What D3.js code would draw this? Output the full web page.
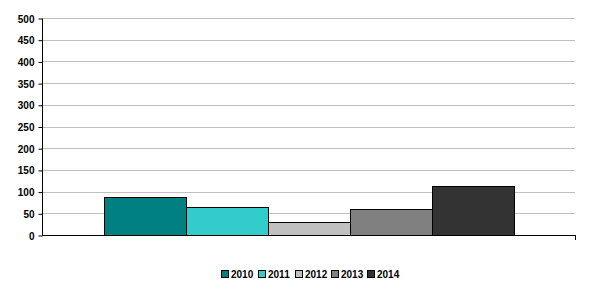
<!DOCTYPE html>
<html>
<head>
<meta charset="utf-8">
<script src="https://cdn.jsdelivr.net/npm/d3@7"></script>
<style>
  body { margin: 0; background: #fff; }
  text { font-family: "Liberation Sans Narrow", "Liberation Sans", Arial, sans-serif; font-weight: bold; font-size: 10px; }
</style>
</head>
<body>
<div id="chart"></div>
<script>
// data
var years = ["2010", "2011", "2012", "2013", "2014"];
var values = [87, 64, 29, 59, 113];
var colors = ["#008080", "#33cccc", "#c0c0c0", "#808080", "#333333"];
var yTicks = [0, 50, 100, 150, 200, 250, 300, 350, 400, 450, 500];

var width = 591, height = 293;
var plotLeft = 42, plotRight = 575, plotTop = 18, plotBottom = 235;

var svg = d3.select("#chart").append("svg")
  .attr("width", width)
  .attr("height", height);

var y = d3.scaleLinear().domain([0, 500]).range([plotBottom, plotTop]);

// one category, bars for each year side by side
var x0 = d3.scaleBand().domain(["all"]).range([plotLeft, plotRight]).paddingInner(0).paddingOuter(0.15);
var x1 = d3.scaleBand().domain(years).range([x0("all"), x0("all") + x0.bandwidth()]).padding(0);

// gridlines
svg.append("g")
  .selectAll("line")
  .data(yTicks.filter(d => d > 0))
  .enter().append("line")
    .attr("x1", plotLeft).attr("x2", plotRight)
    .attr("y1", d => Math.round(y(d)) + 0.5).attr("y2", d => Math.round(y(d)) + 0.5)
    .attr("stroke", "#c0c0c0");

// bars
svg.append("g")
  .selectAll("rect")
  .data(values)
  .enter().append("rect")
    .attr("x", (d, i) => Math.round(x1(years[i])) + 0.5)
    .attr("y", d => Math.round(y(d)) + 0.5)
    .attr("width", x1.bandwidth())
    .attr("height", d => plotBottom - Math.round(y(d)))
    .attr("fill", (d, i) => colors[i])
    .attr("stroke", "#000")
    .attr("stroke-width", 1);

// y axis
var yAxis = d3.axisLeft(y).tickValues(yTicks).tickSize(4).tickPadding(4);
var gy = svg.append("g")
  .attr("transform", "translate(" + (plotLeft + 0.5) + ",0.5)")
  .call(yAxis);
gy.select("path").attr("stroke", "#000").attr("d", "M0," + plotTop + "V" + plotBottom);
gy.selectAll("line").attr("stroke", "#000");
gy.selectAll("text").attr("fill", "#000").attr("dy", "0.35em")
  .style("font-family", "'Liberation Sans Narrow', 'Liberation Sans', Arial, sans-serif")
  .style("font-size", "10px").style("font-weight", "bold");

// x axis line
svg.append("line")
  .attr("x1", plotLeft).attr("x2", plotRight + 1)
  .attr("y1", plotBottom + 0.5).attr("y2", plotBottom + 0.5)
  .attr("stroke", "#000");
svg.append("line")
  .attr("x1", plotRight + 0.5).attr("x2", plotRight + 0.5)
  .attr("y1", plotBottom).attr("y2", plotBottom + 5)
  .attr("stroke", "#000");

// legend
var legendX = [221, 258, 295, 331, 367];
var legend = svg.append("g")
  .selectAll("g")
  .data(years)
  .enter().append("g")
    .attr("transform", (d, i) => "translate(" + legendX[i] + ",270)");
legend.append("rect")
  .attr("x", 0.5).attr("y", 0.5)
  .attr("width", 7).attr("height", 7)
  .attr("fill", (d, i) => colors[i])
  .attr("stroke", "#000");
legend.append("text")
  .attr("x", 10).attr("y", 8)
  .text(d => d);
</script>
</body>
</html>
